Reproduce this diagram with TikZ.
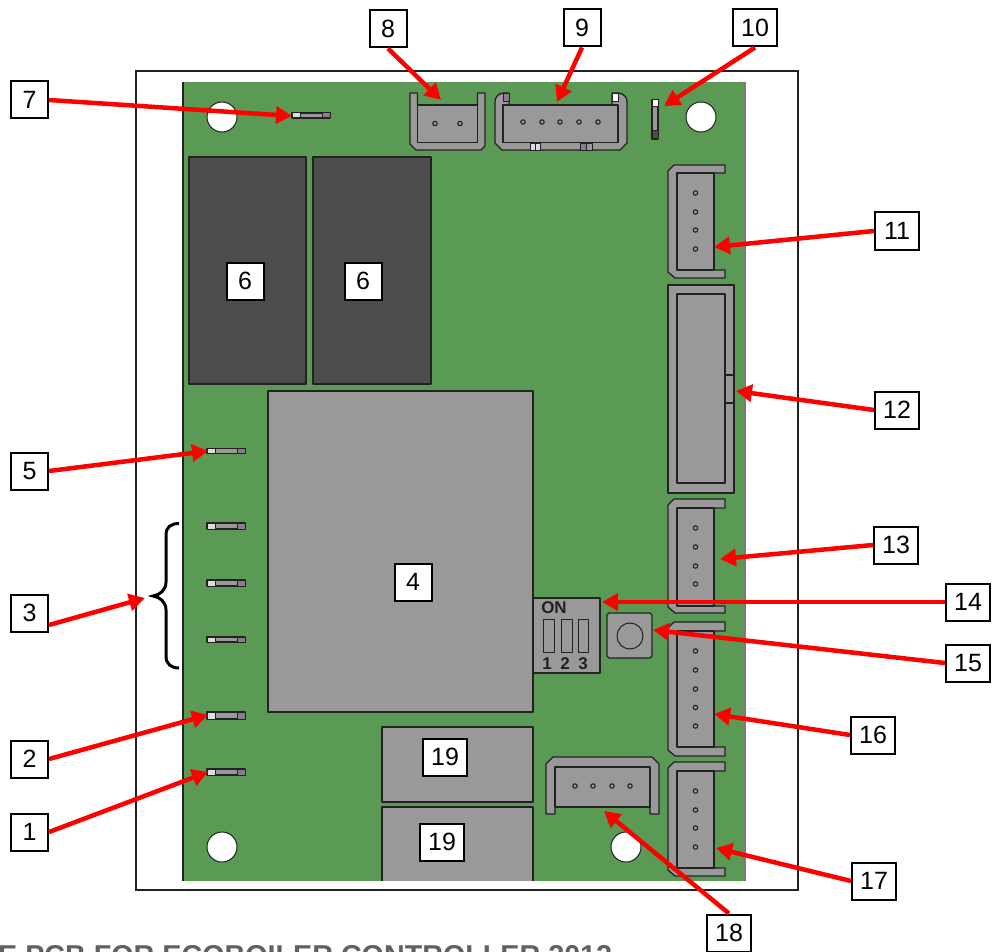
\documentclass[tikz,border=0pt]{standalone}
\usepackage{fontspec}
\setmainfont{Liberation Sans}
\usetikzlibrary{arrows.meta}
\definecolor{pcb}{HTML}{5B9A55}
\definecolor{part}{HTML}{999999}
\definecolor{relay}{HTML}{4D4D4D}
\definecolor{pinend}{HTML}{8A7C8C}
\definecolor{pinlight}{HTML}{DDDDDD}
\definecolor{edge}{HTML}{222222}
\definecolor{arrowred}{HTML}{FF0000}
\tikzset{
  x=1pt,y=-1pt,
  lab/.style={draw=black,line width=2pt,fill=white,minimum height=37pt,minimum width=37pt,inner sep=0pt,font=\fontsize{25}{25}\selectfont,text=black},
  labw/.style={lab,minimum width=44pt},
  arr/.style={draw=arrowred,line width=4.5pt,-{Triangle[length=16pt,width=17pt]}},
  comp/.style={draw=edge,line width=1.3pt,fill=part,line join=round},
  hole/.style={draw=edge,line width=1pt,fill=white},
  pinring/.style={draw=edge,line width=1.1pt,fill=part},
  pindark/.style={draw=edge,line width=1pt,fill=pinend},
  pinlt/.style={draw=edge,line width=1pt,fill=pinlight},
  diptext/.style={font=\fontsize{17}{17}\selectfont\bfseries,text=edge,inner sep=0pt},
}
\newcommand{\hpin}[2]{% y, height
  \path[comp] (207,#1-#2/2) rectangle (245,#1+#2/2);
  \path[pinlt] (207,#1-#2/2) rectangle (215,#1+#2/2);
  \path[pindark] (237,#1-#2/2) rectangle (245,#1+#2/2);
}
\newcommand{\vconn}[5]{% top, bottom, inner top, inner bottom, (unused)
  \path[comp] (674,#1) -- (725,#1) -- (725,#3) -- (714,#3) -- (714,#4) -- (725,#4) -- (725,#2) -- (675,#2) -- (668,#2-6) -- (668,#1+6) -- cycle;
  \path[comp] (677,#3) rectangle (714,#4);
}
\begin{document}
\begin{tikzpicture}
\useasboundingbox (0,0) rectangle (993,952);
\fill[white] (0,0) rectangle (993,952);
% outer frame and board
\draw[line width=2pt,draw=edge] (136,71) rectangle (798,890);
\fill[pcb] (183,82) rectangle (745,881);
\draw[line width=1.2pt,draw=edge] (183,82) -- (183,881);
\draw[line width=1.2pt,draw=edge!60] (745,82) -- (745,881);
% mounting holes
\foreach \hx/\hy in {222/117,701/117,222/847,626/847}
  \path[hole] (\hx,\hy) circle (15);
% relays, transformer, blocks
\path[comp,fill=relay] (189,157) rectangle (306,384);
\path[comp,fill=relay] (313,157) rectangle (431,384);
\path[comp] (268,391) rectangle (533,712);
\path[comp] (382,727) rectangle (533,802);
\path[comp] (382,881) -- (382,807) -- (533,807) -- (533,881);
% spade pins
\hpin{451}{5}\hpin{526}{6}\hpin{583}{6}\hpin{639.5}{5}\hpin{715.5}{7}\hpin{772}{6}
\path[comp] (292,113) rectangle (330,118);
\path[pinlt] (292,113) rectangle (300,118);
\path[pindark] (322,113) rectangle (330,118);
% connector 8
\path[comp] (410,93) -- (417.5,93) -- (417.5,105) -- (477.5,105) -- (477.5,93) -- (485,93) -- (485,146) -- (481,150) -- (416,150) -- (410,144) -- cycle;
\path[comp] (417.5,105) rectangle (477.5,142.5);
\foreach \px in {435,460} \path[pinring] (\px,123.5) circle (2.2);
% connector 9
\path[comp] (503,93) -- (509,93) -- (509,105) -- (612,105) -- (612,93) -- (619,93) .. controls (624,94) and (627,97) .. (627,102) -- (627,143) -- (620,150) -- (502,150) -- (495,143) -- (495,102) .. controls (495,97) and (498,94) .. (503,93) -- cycle;
\path[comp] (503,105) rectangle (618,142.5);
\path[pindark] (503,94) rectangle (509,102);
\path[pinlt,fill=white] (612,94) rectangle (618,102);
\foreach \px in {523,542,560,579,598} \path[pinring] (\px,122) circle (2.2);
\path[pinlt,line width=.8pt] (530,143) rectangle (535,150);
\path[pinlt,line width=.8pt,fill=pinlight] (535,143) rectangle (540,150);
\path[pindark,line width=.8pt] (580,143) rectangle (586,150);
\path[comp,line width=.8pt] (586,143) rectangle (592,150);
% part 10
\path[comp] (652,100) rectangle (658,139);
\path[pinlt,fill=white] (652,100) rectangle (658,107);
\path[pindark,fill=relay] (652,131) rectangle (658,139);
% side connectors
\vconn{165}{278}{173}{270}{}
\foreach \py in {193,212,230,249} \path[pinring] (695.5,\py) circle (2.2);
\path[comp] (668,285) rectangle (734,493);
\path[comp] (677,294) rectangle (725,483);
\draw[draw=edge,line width=1.3pt] (725,375) -- (734,375) (725,403) -- (734,403);
\vconn{499}{613}{508}{606}{}
\foreach \py in {528,547,566,584} \path[pinring] (695.5,\py) circle (2.2);
\vconn{622}{756}{631}{747}{}
\foreach \py in {651,670,689,707.5,726} \path[pinring] (695.5,\py) circle (2.2);
\vconn{762}{876}{771}{868}{}
\foreach \py in {791,810,828,847} \path[pinring] (695.5,\py) circle (2.2);
% connector 18
\path[comp] (546,814) -- (546,764) -- (553,757) -- (652,757) -- (659,764) -- (659,814) -- (650,814) -- (650,807) -- (555,807) -- (555,814) -- cycle;
\path[comp] (555,767) rectangle (650,807);
\foreach \px in {575,593,612,630} \path[pinring] (\px,786) circle (2.2);
% DIP switch
\path[comp] (533,598) rectangle (600,673);
\foreach \sx/\sw in {543/11,561/11,578/10} \path[comp,line width=1pt] (\sx,619) rectangle ++(\sw,33);
\node[diptext] (on) at (554,608) {ON};
\node[diptext] (d1) at (547,663.5) {1};
\node[diptext] (d2) at (565,663.5) {2};
\node[diptext] (d3) at (583,663.5) {3};
% push button
\path[comp] (609,613) -- (650,613) -- (652,615) -- (652,656) -- (650,658) -- (609,658) -- (607,656) -- (607,615) -- cycle;
\draw[draw=edge,line width=1pt] (630,636) circle (13);
% brace
\draw[line width=3pt,line cap=butt] (179,523.5) .. controls (171,523.5) and (166,527) .. (166,535) -- (166,582) .. controls (166,590) and (160,595) .. (153,596) .. controls (160,597) and (166,602) .. (166,610) -- (166,656) .. controls (166,664) and (171,668) .. (179,668);
% clipped caption
\begin{scope}
\clip (0,930) rectangle (993,952);
\node[anchor=base west,inner sep=0pt,text=black!62,font=\fontsize{28.7}{28.7}\selectfont\bfseries] (caption) at (-2,965) {E PCB FOR ECOBOILER CONTROLLER 2012};
\end{scope}
% arrow targets
\coordinate (t1) at (208,772);
\coordinate (t2) at (208,715);
\coordinate (t3) at (145,598);
\coordinate (t5) at (208,451);
\coordinate (t7) at (292,116);
\coordinate (t8) at (441,100);
\coordinate (t9) at (557,102);
\coordinate (t10) at (664,106);
\coordinate (t11) at (714,247);
\coordinate (t12) at (736,391);
\coordinate (t13) at (720,559);
\coordinate (t14) at (602,602);
\coordinate (t15) at (653,630);
\coordinate (t16) at (714,714);
\coordinate (t17) at (716,848);
\coordinate (t18) at (604,811);
% labels
\node[lab] (l1) at (29.5,832) {1};
\node[lab] (l2) at (29.5,759) {2};
\node[lab] (l3) at (29.5,613) {3};
\node[lab] (l5) at (29.5,471) {5};
\node[lab] (l7) at (29.5,100) {7};
\node[lab] (l8) at (388,29) {8};
\node[lab] (l9) at (582,28) {9};
\node[labw] (l10) at (755,28) {10};
\node[labw] (l11) at (897,231) {11};
\node[labw] (l12) at (897,410) {12};
\node[labw] (l13) at (896,545) {13};
\node[labw] (l14) at (968,602) {14};
\node[labw] (l15) at (968,663) {15};
\node[labw] (l16) at (873,735) {16};
\node[labw] (l17) at (874,881) {17};
\node[labw] (l18) at (729,933) {18};
\node[lab] (l6a) at (245,281) {6};
\node[lab] (l6b) at (363,281) {6};
\node[lab] (l4) at (413,582) {4};
\node[labw] (l19a) at (445,757) {19};
\node[labw] (l19b) at (442,842) {19};
% arrows
\foreach \n in {1,2,5,7} \draw[arr] (l\n.east) -- (t\n);
\draw[arr] ([yshift=-12pt]l3.east) -- (t3);
\foreach \n in {8,9,10} \draw[arr] (l\n.south) -- (t\n);
\foreach \n in {11,12,13,14,15,16,17} \draw[arr] (l\n.west) -- (t\n);
\draw[arr] (l18.north) -- (t18);
\end{tikzpicture}
\end{document}
